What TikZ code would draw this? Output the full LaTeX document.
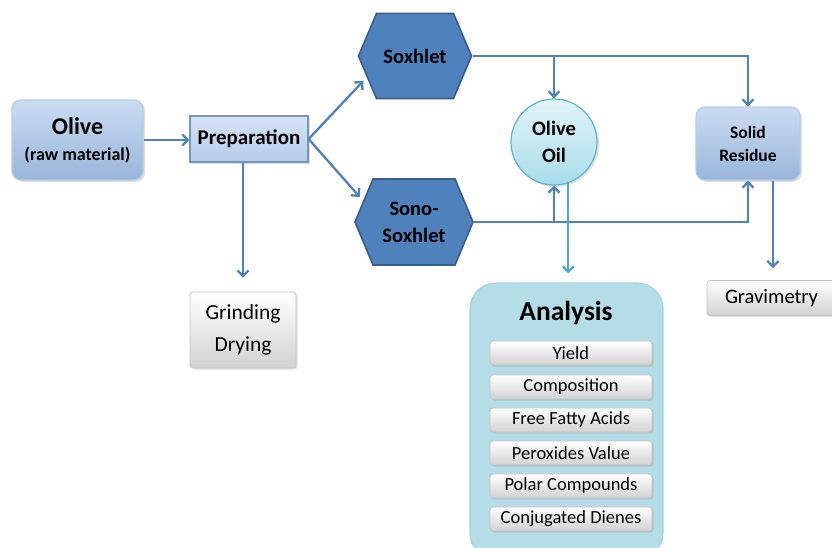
\documentclass[tikz,border=0pt]{standalone}
\usepackage{fontspec}
\setmainfont{Carlito}
\usetikzlibrary{arrows.meta,calc,shadows}
\definecolor{arrowblue}{HTML}{4F81BD}
\definecolor{tealc}{HTML}{4BACC6}
\definecolor{hexfill}{HTML}{4F81BD}
\definecolor{hexdraw}{HTML}{385D8A}
\definecolor{boxtop}{HTML}{CADCF2}
\definecolor{boxbot}{HTML}{98B6DA}
\definecolor{boxdraw}{HTML}{B5CBE6}
\definecolor{preptop}{HTML}{D5E3F5}
\definecolor{prepbot}{HTML}{B4CCEA}
\definecolor{prepdraw}{HTML}{7495C3}
\definecolor{oiltop}{HTML}{E2F4F9}
\definecolor{oilbot}{HTML}{A9DCEA}
\definecolor{oildraw}{HTML}{5FB3CC}
\definecolor{anafill}{HTML}{B4DDE8}
\definecolor{anadraw}{HTML}{A3D3E0}
\definecolor{graybot}{HTML}{D2D2D2}
\definecolor{graydraw}{HTML}{C4C4C4}
\tikzset{
  fs/.style 2 args={font=\fontsize{#1}{#2}\selectfont},
  fsb/.style 2 args={font=\fontsize{#1}{#2}\selectfont\bfseries},
  arr/.style={draw=arrowblue, line width=2.3pt, -{Straight Barb[length=5.5pt,width=11pt]}},
  arrt/.style={arr, draw=tealc},
  bluebox/.style={rounded corners=9pt, top color=boxtop, bottom color=boxbot, draw=boxdraw, line width=1.2pt,
     drop shadow={shadow xshift=2pt, shadow yshift=-2pt, opacity=0.25}, align=center, inner sep=0pt},
  prepbox/.style={top color=preptop, bottom color=prepbot, draw=prepdraw, line width=1.2pt,
     drop shadow={shadow xshift=2pt, shadow yshift=-2pt, opacity=0.25}, inner sep=0pt},
  hexnode/.style={inner sep=0pt, align=center, path picture={
     \path[fill=hexfill, draw=hexdraw, line width=1.6pt]
       ([xshift=1pt]path picture bounding box.west)
       -- ([xshift=19pt,yshift=-1pt]path picture bounding box.north west)
       -- ([xshift=-19pt,yshift=-1pt]path picture bounding box.north east)
       -- ([xshift=-1pt]path picture bounding box.east)
       -- ([xshift=-19pt,yshift=1pt]path picture bounding box.south east)
       -- ([xshift=19pt,yshift=1pt]path picture bounding box.south west)
       -- cycle;}},
  oilnode/.style={circle, top color=oiltop, bottom color=oilbot, draw=oildraw, line width=1.2pt,
     drop shadow={shadow xshift=2pt, shadow yshift=-2pt, opacity=0.25}, align=center, inner sep=0pt},
  graybox/.style={rounded corners=3pt, top color=white, bottom color=graybot, draw=graydraw, line width=0.8pt,
     drop shadow={shadow xshift=1.5pt, shadow yshift=-1.5pt, opacity=0.25}, align=center, inner sep=0pt},
  itembox/.style={graybox, minimum width=162, minimum height=24, fs={18.5}{21}},
  anabox/.style={rounded corners=26pt, fill=anafill, draw=anadraw, line width=1.2pt, inner sep=0pt}
}
\begin{document}
\begin{tikzpicture}[x=1pt,y=-1pt]
\useasboundingbox (0,0) rectangle (832,547);

% nodes
\node[bluebox, minimum width=131, minimum height=80, fsb={18}{26}] (olive) at (77.5,140)
  {{\fontsize{24}{26}\selectfont Olive}\\{\fontsize{18}{20}\selectfont (raw material)}};
\node[prepbox, minimum width=118, minimum height=46, fsb={21}{24}] (prep) at (249,139) {Preparation};

\node[hexnode, minimum width=115, minimum height=87, fsb={20.5}{24}] (sox) at (415,56) {Soxhlet};
\node[hexnode, minimum width=120, minimum height=88, fsb={20.5}{27}] (sono) at (414,222) {Sono-\\Soxhlet};

\node[oilnode, minimum size=86, fsb={20.5}{27}] (oil) at (554,142) {Olive\\Oil};

\node[bluebox, minimum width=104, minimum height=73, fsb={17.5}{23}] (res) at (748,143.5) {Solid\\Residue};

\node[graybox, minimum width=106, minimum height=76, fs={21.5}{32}] (grind) at (243,330) {Grinding\\Drying};
\node[graybox, minimum width=129, minimum height=35, fs={20.5}{24}] (grav) at (771.5,298) {Gravimetry};

\node[anabox, minimum width=193, minimum height=276] (ana) at (566.5,421) {};
\node[fsb={27.5}{32}] (anat) at (566,313) {Analysis};
\node[itembox] (i1) at (571,353) {Yield};
\node[itembox] (i2) at (571,387) {Composition};
\node[itembox] (i3) at (571,420) {Free Fatty Acids};
\node[itembox] (i4) at (571,453) {Peroxides Value};
\node[itembox] (i5) at (571,486) {Polar Compounds};
\node[itembox] (i6) at (571,519) {Conjugated Dienes};

% connectors
\draw[arr] (olive.east) -- (olive.east -| prep.west);
\draw[arr] (prep.east) -- ($(sox.west)+(6,25)$);
\draw[arr] (prep.east) -- ($(sono.west)+(6,-25)$);
\draw[arr] (prep.south -| grind.north) -- ([yshift=14pt]grind.north);

\draw[arr] (sox.east) -| (res.north);
\draw[arr] (sox.east -| oil.north) -- (oil.north);
\draw[arr] (sono.east) -| (res.south);
\draw[arr] (sono.east -| oil.south) -- (oil.south);

\draw[arrt] (oil.-71) -- ([yshift=9pt]oil.-71 |- ana.north);
\draw[arr] ([xshift=25pt]res.south) -- ([xshift=25pt,yshift=12pt]res.south |- grav.north);
\end{tikzpicture}
\end{document}
